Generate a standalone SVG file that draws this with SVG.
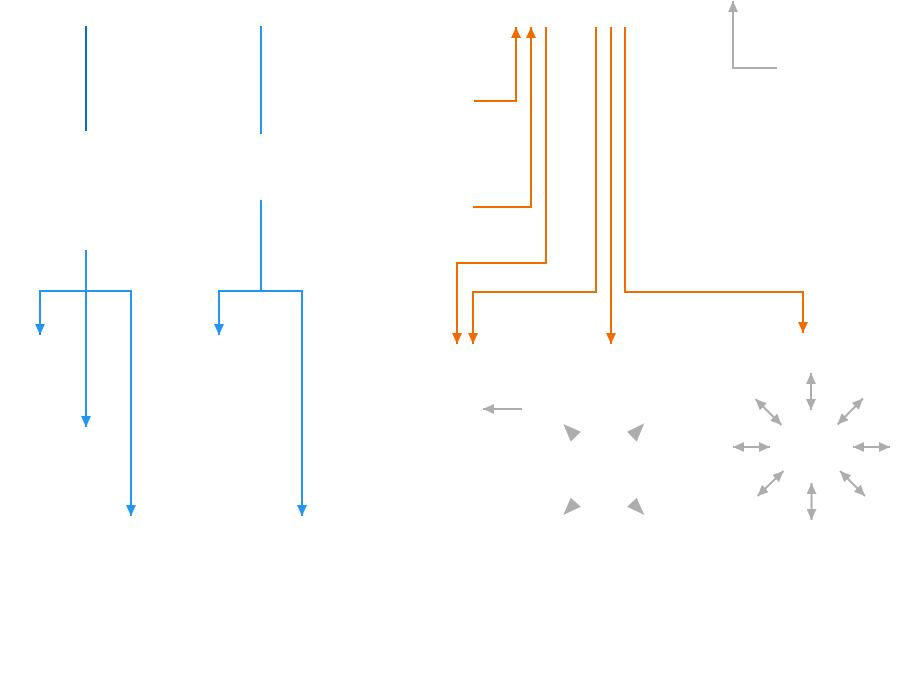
<svg xmlns="http://www.w3.org/2000/svg" width="900" height="690" viewBox="0 0 900 690">
<style>
.b{fill:none;stroke:#2196f3;stroke-width:2}
.bd{fill:none;stroke:#0a6cbc;stroke-width:2}
.o{fill:none;stroke:#ef6c00;stroke-width:2}
.g{fill:none;stroke:#adadad;stroke-width:2}
</style>
<defs>
<marker id="ab" markerUnits="userSpaceOnUse" markerWidth="11" markerHeight="10" refX="11" refY="5" orient="auto"><path d="M0,0 L11,5 L0,10 z" fill="#2196f3"/></marker>
<marker id="ao" markerUnits="userSpaceOnUse" markerWidth="11" markerHeight="10" refX="11" refY="5" orient="auto"><path d="M0,0 L11,5 L0,10 z" fill="#ef6c00"/></marker>
<marker id="ag" markerUnits="userSpaceOnUse" markerWidth="11" markerHeight="10" refX="11" refY="5" orient="auto-start-reverse"><path d="M0,0 L11,5 L0,10 z" fill="#adadad"/></marker>
</defs>
<rect width="900" height="690" fill="#fff"/>
<g id="connectors">
<g id="blue">
<path class="bd" d="M86,26 V131"/>
<path class="b" d="M261,26 V134"/>
<path class="b" d="M86,250 V427" marker-end="url(#ab)"/>
<path class="b" d="M86,291 H40 V335" marker-end="url(#ab)"/>
<path class="b" d="M86,291 H131 V516" marker-end="url(#ab)"/>
<path class="b" d="M261,200 V291 H219 V335" marker-end="url(#ab)"/>
<path class="b" d="M261,291 H302 V516" marker-end="url(#ab)"/>
</g>
<g id="orange">
<path class="o" d="M474,101 H516 V27" marker-end="url(#ao)"/>
<path class="o" d="M473,207 H531 V27" marker-end="url(#ao)"/>
<path class="o" d="M546,27 V263 H457 V344" marker-end="url(#ao)"/>
<path class="o" d="M596,27 V292 H473 V344" marker-end="url(#ao)"/>
<path class="o" d="M611,27 V344" marker-end="url(#ao)"/>
<path class="o" d="M625,27 V292 H803 V333" marker-end="url(#ao)"/>
</g>
<g id="gray">
<path class="g" d="M777,68 H733 V1" marker-end="url(#ag)"/>
<path class="g" d="M522,409 H483" marker-end="url(#ag)"/>
<path class="g" d="M811,373 V410" marker-start="url(#ag)" marker-end="url(#ag)"/>
<path class="g" d="M811.5,483 V520" marker-start="url(#ag)" marker-end="url(#ag)"/>
<path class="g" d="M733,447 H770" marker-start="url(#ag)" marker-end="url(#ag)"/>
<path class="g" d="M853,447 H890" marker-start="url(#ag)" marker-end="url(#ag)"/>
<path class="g" d="M755.5,399 L781.5,425" marker-start="url(#ag)" marker-end="url(#ag)"/>
<path class="g" d="M863,398.5 L837.5,424.5" marker-start="url(#ag)" marker-end="url(#ag)"/>
<path class="g" d="M783.5,471 L757.5,496" marker-start="url(#ag)" marker-end="url(#ag)"/>
<path class="g" d="M840,471 L865,496" marker-start="url(#ag)" marker-end="url(#ag)"/>
</g>
<g id="heads" fill="#adadad">
<polygon points="563.3,424 581,431.7 570.7,441.7"/>
<polygon points="644.3,423.3 627,431.7 636.7,441.7"/>
<polygon points="563.3,515 570.7,497.7 581,506.7"/>
<polygon points="644.3,515 636.7,497.7 627,506.7"/>
</g>
</g>
</svg>
